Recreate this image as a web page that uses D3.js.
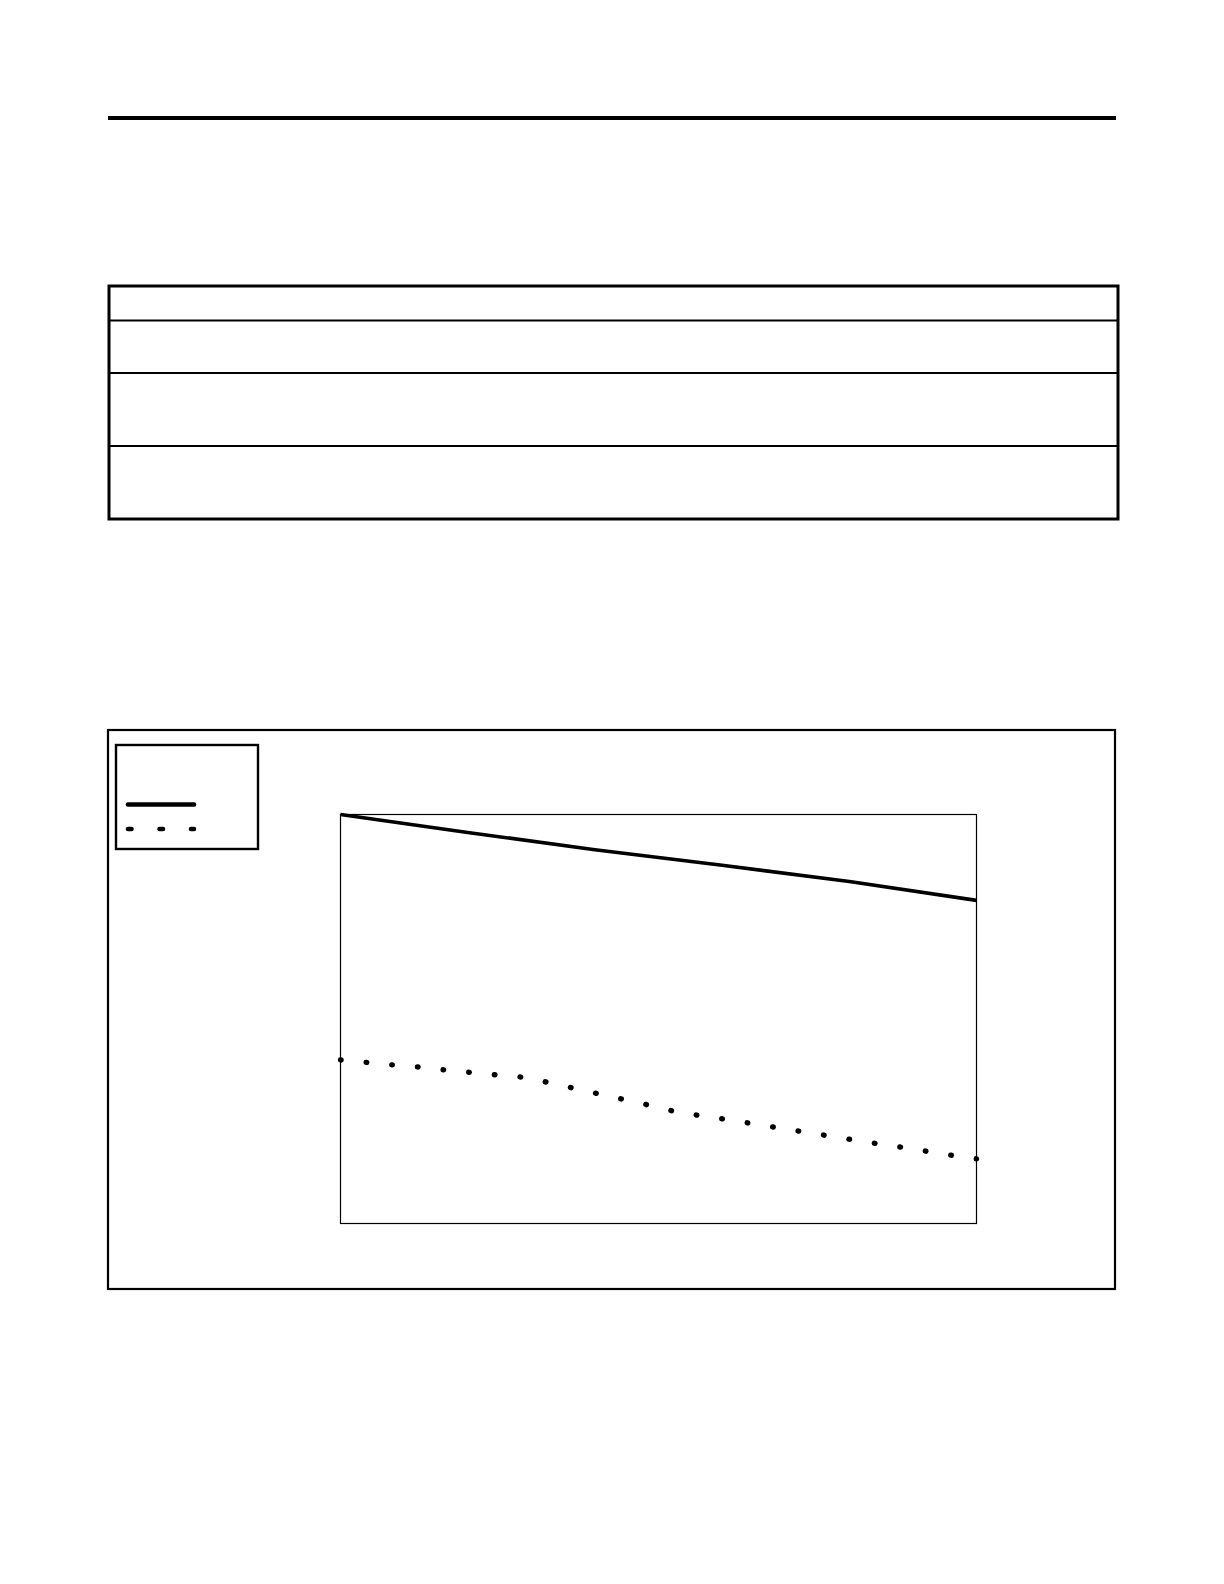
<!DOCTYPE html>
<html>
<head>
<meta charset="utf-8">
<script src="https://cdn.jsdelivr.net/npm/d3@7"></script>
<style>
    body { margin: 0; background: #fff; }
    .frame { fill: none; stroke: #000; }
</style>
</head>
<body>
<div id="page"></div>
<script>
// x = period index along the plot, y = share of the top of the plot (0..100)
var solidX = [0, 5, 10, 15, 20, 25];
var solidY = [100, 95.6, 91.4, 87.6, 83.6, 79.0];

var dottedX = [0, 1, 2, 3, 4, 5, 6, 7, 8, 9, 10, 11, 12, 13, 14, 15, 16, 17, 18, 19, 20, 21, 22, 23, 24, 25];
var dottedY = [40.0, 39.4, 38.8, 38.3, 37.6, 37.0, 36.4, 35.9, 34.7, 33.3, 31.9, 30.5, 29.1,
    27.6, 26.5, 25.6, 24.6, 23.6, 22.6, 21.6, 20.6, 19.6, 18.7, 17.7, 16.7, 15.8];

var legendKeys = ["solid", "dotted"];
var tableRows = ["", "", "", ""];

(function() {
    var width = 1224;
    var height = 1584;

    var svg = d3.select("#page").append("svg")
        .attr("width", width)
        .attr("height", height);

    // heading rule
    svg.append("line")
        .attr("x1", 108).attr("x2", 1116)
        .attr("y1", 118).attr("y2", 118)
        .attr("stroke", "#000")
        .attr("stroke-width", 4);

    // empty table
    var tableTop = 286, tableLeft = 109, tableRight = 1118;
    var rowHeights = [34.5, 52.5, 73, 73];
    var rowEdges = d3.cumsum(rowHeights).map(function(d) { return tableTop + d; });

    svg.selectAll(".row-line")
        .data(rowEdges.slice(0, tableRows.length - 1))
        .enter()
        .append("line")
        .attr("class", "row-line")
        .attr("x1", tableLeft).attr("x2", tableRight)
        .attr("y1", function(d) { return d; })
        .attr("y2", function(d) { return d; })
        .attr("stroke", "#000")
        .attr("stroke-width", 2);

    svg.append("rect")
        .attr("class", "frame")
        .attr("x", tableLeft)
        .attr("y", tableTop)
        .attr("width", tableRight - tableLeft)
        .attr("height", rowEdges[rowEdges.length - 1] - tableTop)
        .attr("stroke-width", 3);

    // chart frame
    svg.append("rect")
        .attr("class", "frame")
        .attr("x", 108).attr("y", 730)
        .attr("width", 1007).attr("height", 559)
        .attr("stroke-width", 2.2);

    var plot = { left: 340.5, right: 976.5, top: 814.5, bottom: 1223.5 };

    var x = d3.scaleLinear()
        .domain([0, 25])
        .range([plot.left, plot.right]);

    var y = d3.scaleLinear()
        .domain([0, 100])
        .range([plot.bottom, plot.top]);

    svg.append("rect")
        .attr("class", "frame")
        .attr("x", plot.left).attr("y", plot.top)
        .attr("width", plot.right - plot.left)
        .attr("height", plot.bottom - plot.top)
        .attr("stroke-width", 1.2);

    var line = d3.line()
        .x(function(d) { return x(d[0]); })
        .y(function(d) { return y(d[1]); });

    svg.append("path")
        .datum(d3.zip(solidX, solidY))
        .attr("fill", "none")
        .attr("stroke", "#000")
        .attr("stroke-width", 3.6)
        .attr("d", line);

    var dotted = svg.append("path")
        .datum(d3.zip(dottedX, dottedY))
        .attr("fill", "none")
        .attr("stroke", "#000")
        .attr("stroke-width", 5.4)
        .attr("stroke-linecap", "round")
        .attr("d", line);

    var gap = dotted.node().getTotalLength() / (dottedX.length - 1) - 0.01;
    dotted.attr("stroke-dasharray", "0.6," + (gap - 0.6));

    // legend
    var legend = svg.append("g")
        .attr("transform", "translate(116,745)");

    legend.append("rect")
        .attr("class", "frame")
        .attr("width", 142).attr("height", 104)
        .attr("stroke-width", 2.4);

    legend.selectAll(".key")
        .data(legendKeys)
        .enter()
        .append("line")
        .attr("class", "key")
        .attr("x1", 12).attr("x2", 78)
        .attr("y1", function(d, i) { return 59.5 + i * 24.5; })
        .attr("y2", function(d, i) { return 59.5 + i * 24.5; })
        .attr("stroke", "#000")
        .attr("stroke-width", 4.6)
        .attr("stroke-linecap", "round")
        .attr("stroke-dasharray", function(d) { return d === "dotted" ? "3.5,28" : null; });
})();
</script>
</body>
</html>
